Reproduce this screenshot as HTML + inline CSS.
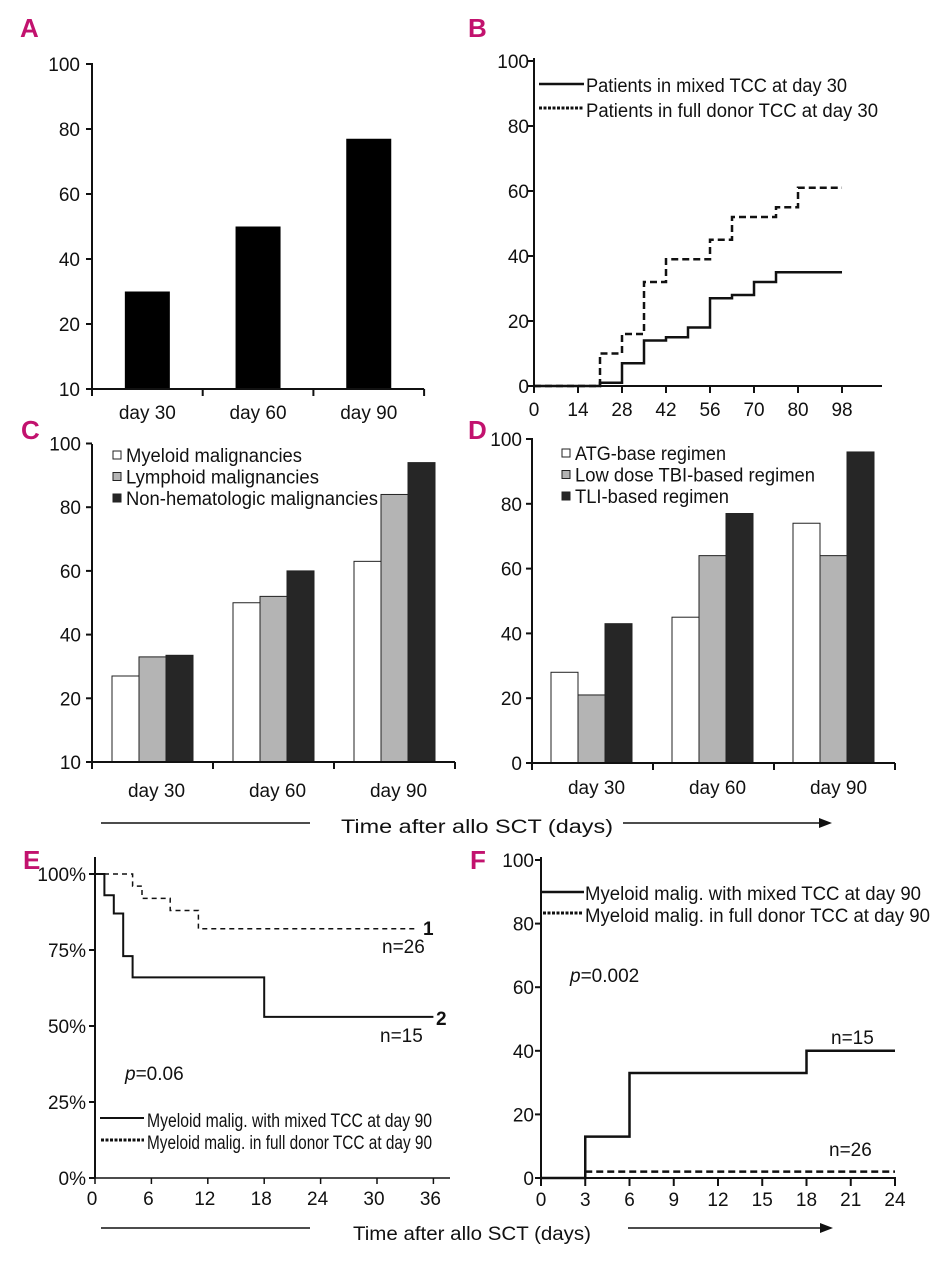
<!DOCTYPE html>
<html><head><meta charset="utf-8"><style>
html,body{margin:0;padding:0;background:#fff;}
svg{display:block;font-family:"Liberation Sans",sans-serif;}
.tk{font-size:19px;fill:#111;}
.lg{font-size:19px;fill:#111;}
.pl{font-size:26px;font-weight:bold;fill:#c2126e;}
</style></head><body>
<svg id="fig" width="949" height="1280" viewBox="0 0 949 1280" xmlns="http://www.w3.org/2000/svg">
<g id="labels">
<text class="pl" x="20" y="37">A</text>
<text class="pl" x="468" y="37">B</text>
<text class="pl" x="21" y="439">C</text>
<text class="pl" x="468" y="439">D</text>
<text class="pl" x="23" y="869">E</text>
<text class="pl" x="470" y="869">F</text>
</g>
<g>
<line x1="101" y1="823" x2="310" y2="823" stroke="#111" stroke-width="1.5"/>
<text class="lg" x="341" y="833" font-size="20" textLength="272" lengthAdjust="spacingAndGlyphs">Time after allo SCT (days)</text>
<line x1="623" y1="823" x2="822" y2="823" stroke="#111" stroke-width="1.5"/>
<polygon points="832,823 819,818 819,828" fill="#111"/>
</g>
<g>
<line x1="101" y1="1228" x2="310" y2="1228" stroke="#111" stroke-width="1.5"/>
<text class="lg" x="353" y="1240" font-size="20" textLength="238" lengthAdjust="spacingAndGlyphs">Time after allo SCT (days)</text>
<line x1="628" y1="1228" x2="823" y2="1228" stroke="#111" stroke-width="1.5"/>
<polygon points="833,1228 820,1223 820,1233" fill="#111"/>
</g>
</svg>
<script>
// Panel A
const aCats=["day 30","day 60","day 90"];
const aVals=[30,50,77];
const aTicks=[0,20,40,60,80,100];
const aTickLabels=["10","20","40","60","80","100"];
// Panel B
const bTicks=[0,14,28,42,56,70,84,98];
const bTickLabels=["0","14","28","42","56","70","80","98"];
const bYTicks=[0,20,40,60,80,100];
const bMixedT=[0,21,28,35,42,49,56,63,70,77];
const bMixedV=[0,1,7,14,15,18,27,28,32,35];
const bFullT=[0,21,28,35,42,56,63,77,84];
const bFullV=[0,10,16,32,39,45,52,55,61];
const bEnd=98;
// Panel C
const cCats=["day 30","day 60","day 90"];
const cMyeloid=[27,50,63];
const cLymphoid=[33,52,84];
const cNonHem=[33.5,60,94];
const cTicks=[0,20,40,60,80,100];
const cTickLabels=["10","20","40","60","80","100"];
// Panel D
const dCats=["day 30","day 60","day 90"];
const dATG=[28,45,74];
const dTBI=[21,64,64];
const dTLI=[43,77,96];
const dTicks=[0,20,40,60,80,100];
// Panel E
const eXTicks=[0,6,12,18,24,30,36];
const eYTicks=[0,25,50,75,100];
const eMixedT=[0,1,2,3,4,18];
const eMixedV=[100,93,87,73,66,53];
const eMixedEnd=36;
const eFullT=[0,4,5,8,11];
const eFullV=[100,96,92,88,82];
const eFullEnd=34;
// Panel F
const fXTicks=[0,3,6,9,12,15,18,21,24];
const fYTicks=[0,20,40,60,80,100];
const fMixedT=[0,3,6,18];
const fMixedV=[0,13,33,40];
const fFullT=[3];
const fFullV=[2];
const fEnd=24;

const NS="http://www.w3.org/2000/svg";
const svg=document.getElementById('fig');
function mk(tag,attrs,parent,txt){const e=document.createElementNS(NS,tag);for(const k in attrs)e.setAttribute(k,attrs[k]);if(txt!==undefined)e.textContent=txt;(parent||svg).appendChild(e);return e;}
function grp(name){const g=mk('g',{});


return g;}
function line(g,x1,y1,x2,y2,w,dash){const l=mk('line',{x1:x1,y1:y1,x2:x2,y2:y2,stroke:'#111','stroke-width':w||2});if(dash)l.setAttribute('stroke-dasharray',dash);return l;}
function yAxis(g,x,yTop,yBot,ticks,labels,yf,lx){line(g,x,yTop,x,yBot,2);ticks.forEach((t,i)=>{const y=yf(t);line(g,x-6,y,x,y,2);const tx=mk('text',{x:lx,y:y+7,'text-anchor':'end',class:'tk'},g,labels[i]);

});}
function stepPath(g,T,V,end,xf,yf,w,dash,name){let d='M'+xf(T[0])+' '+yf(V[0]);for(let i=1;i<T.length;i++){d+=' H'+xf(T[i])+' V'+yf(V[i]);}d+=' H'+xf(end);const p=mk('path',{d:d,fill:'none',stroke:'#111','stroke-width':w});if(dash)p.setAttribute('stroke-dasharray',dash);


return p;}

// ---- Panel A
(function(){const g=grp('panel-a-chart');const x0=92,cw=110.7,yf=v=>389-v*3.25;
yAxis(g,x0,63,389,aTicks,aTickLabels,yf,80);
line(g,x0-4,389,x0+cw*3,389,2);
for(let i=0;i<=3;i++)line(g,x0+cw*i,389,x0+cw*i,396,2);
aCats.forEach((c,i)=>{const bx=x0+cw*i+(cw-45)/2;const r=mk('rect',{x:bx,y:yf(aVals[i]),width:45,height:389-yf(aVals[i]),fill:'#000'},g);


const t=mk('text',{x:x0+cw*i+cw/2,y:419,'text-anchor':'middle',class:'tk'},g,c);

});})();

// ---- Panel B
(function(){const g=grp('panel-b-chart');const xf=d=>534+d*3.143,yf=v=>386-v*3.25;
yAxis(g,534,58,386,bYTicks,bYTicks.map(String),yf,529);
line(g,528,386,882,386,2);
bTicks.forEach((t,i)=>{line(g,xf(t),386,xf(t),393,2);const tx=mk('text',{x:xf(t),y:416,'text-anchor':'middle',class:'tk'},g,bTickLabels[i]);

});
stepPath(g,bFullT,bFullV,bEnd,xf,yf,2.5,'7 4','full-donor-curve');
stepPath(g,bMixedT,bMixedV,bEnd,xf,yf,2.5,null,'mixed-curve');
const l1=grp('legend-entry-mixed');g.appendChild(l1);line(l1,539,84,584,84,2.5);mk('text',{x:586,y:92,class:'lg',textLength:261,lengthAdjust:'spacingAndGlyphs'},l1,'Patients in mixed TCC at day 30');
const l2=grp('legend-entry-full');g.appendChild(l2);line(l2,539,108,584,108,3,'3 1.5');mk('text',{x:586,y:117,class:'lg',textLength:292,lengthAdjust:'spacingAndGlyphs'},l2,'Patients in full donor TCC at day 30');
})();

// ---- grouped bars helper
function grouped(name,x0,cw,yBase,k,off,bw,cats,series,ticks,labels,yTop,lx,legendX,legendY,legendNames,legendLens,labY){
const g=grp(name);const yf=v=>yBase-v*k;
yAxis(g,x0,yTop,yBase,ticks,labels,yf,lx);
line(g,x0-5,yBase,x0+cw*3,yBase,2);
for(let i=0;i<=3;i++)line(g,x0+cw*i,yBase,x0+cw*i,yBase+7,2);
const fills=['#fff','#b4b4b4','#262626'];
cats.forEach((c,i)=>{series.forEach((s,j)=>{const bx=x0+cw*i+off+bw*j;const r=mk('rect',{x:bx,y:yf(s[i]),width:bw,height:yBase-yf(s[i]),fill:fills[j],stroke:'#222','stroke-width':1},g);

});
const t=mk('text',{x:x0+cw*i+cw/2+4,y:labY,'text-anchor':'middle',class:'tk'},g,c);

});
legendNames.forEach((n,j)=>{const le=grp('legend-entry');g.appendChild(le);const y=legendY+j*21.5;mk('rect',{x:legendX,y:y-4,width:8,height:8,fill:fills[j],stroke:'#222','stroke-width':1},le);mk('text',{x:legendX+13,y:y+7,class:'lg',textLength:legendLens[j],lengthAdjust:'spacingAndGlyphs'},le,n);});
}
grouped('panel-c-chart',92,121,762,3.185,20,27,cCats,[cMyeloid,cLymphoid,cNonHem],cTicks,cTickLabels,444,81,113,455,['Myeloid malignancies','Lymphoid malignancies','Non-hematologic malignancies'],[176,193,252],797);
grouped('panel-d-chart',532,121,763,3.24,19,27,dCats,[dATG,dTBI,dTLI],dTicks,dTicks.map(String),438,522,562,453,['ATG-base regimen','Low dose TBI-based regimen','TLI-based regimen'],[151,240,154],794);

// ---- Panel E
(function(){const g=grp('panel-e-chart');const xf=m=>95+m*9.4,yf=p=>1178-p*3.04;
yAxis(g,95,857,1178,eYTicks,eYTicks.map(v=>v+'%'),yf,86);
line(g,90,1178,450,1178,1.5);
eXTicks.forEach(t=>{line(g,xf(t),1178,xf(t),1184,1.5);const tx=mk('text',{x:xf(t)-3,y:1205,'text-anchor':'middle',class:'tk'},g,String(t));

});
stepPath(g,eFullT,eFullV,eFullEnd,xf,yf,1.5,'5 4','full-donor-curve');
stepPath(g,eMixedT,eMixedV,eMixedEnd,xf,yf,2,null,'mixed-curve');
mk('text',{x:382,y:953,class:'tk'},g,'n=26');mk('text',{x:423,y:935,class:'tk','font-weight':'bold'},g,'1');
mk('text',{x:380,y:1042,class:'tk'},g,'n=15');mk('text',{x:436,y:1025,class:'tk','font-weight':'bold'},g,'2');
const p=mk('text',{x:125,y:1080,class:'tk'},g);mk('tspan',{'font-style':'italic'},p,'p');mk('tspan',{},p,'=0.06');
const l1=grp('legend-entry-mixed');g.appendChild(l1);line(l1,100,1118,144,1118,2);mk('text',{x:147,y:1127,class:'lg',textLength:285,lengthAdjust:'spacingAndGlyphs'},l1,'Myeloid malig. with mixed TCC at day 90');
const l2=grp('legend-entry-full');g.appendChild(l2);line(l2,101,1140,144,1140,3,'3 1.5');mk('text',{x:147,y:1149,class:'lg',textLength:285,lengthAdjust:'spacingAndGlyphs'},l2,'Myeloid malig. in full donor TCC at day 90');
})();

// ---- Panel F
(function(){const g=grp('panel-f-chart');const xf=d=>541+d*14.75,yf=v=>1178-v*3.18;
yAxis(g,541,857,1178,fYTicks,fYTicks.map(String),yf,534);
line(g,535,1178,896,1178,2);
fXTicks.forEach(t=>{line(g,xf(t),1178,xf(t),1186,2);const tx=mk('text',{x:xf(t),y:1206,'text-anchor':'middle',class:'tk'},g,String(t));

});
stepPath(g,fFullT,fFullV,fEnd,xf,yf,2.5,'7 4','full-donor-curve');
stepPath(g,fMixedT,fMixedV,fEnd,xf,yf,2.5,null,'mixed-curve');
mk('text',{x:831,y:1044,class:'tk'},g,'n=15');mk('text',{x:829,y:1156,class:'tk'},g,'n=26');
const p=mk('text',{x:570,y:982,class:'tk'},g);mk('tspan',{'font-style':'italic'},p,'p');mk('tspan',{},p,'=0.002');
const l1=grp('legend-entry-mixed');g.appendChild(l1);line(l1,541,892,584,892,2.5);mk('text',{x:585,y:900,class:'lg',textLength:336,lengthAdjust:'spacingAndGlyphs'},l1,'Myeloid malig. with mixed TCC at day 90');
const l2=grp('legend-entry-full');g.appendChild(l2);line(l2,543,913,583,913,3,'3 1.5');mk('text',{x:585,y:922,class:'lg',textLength:345,lengthAdjust:'spacingAndGlyphs'},l2,'Myeloid malig. in full donor TCC at day 90');
})();
</script>
</body></html>
